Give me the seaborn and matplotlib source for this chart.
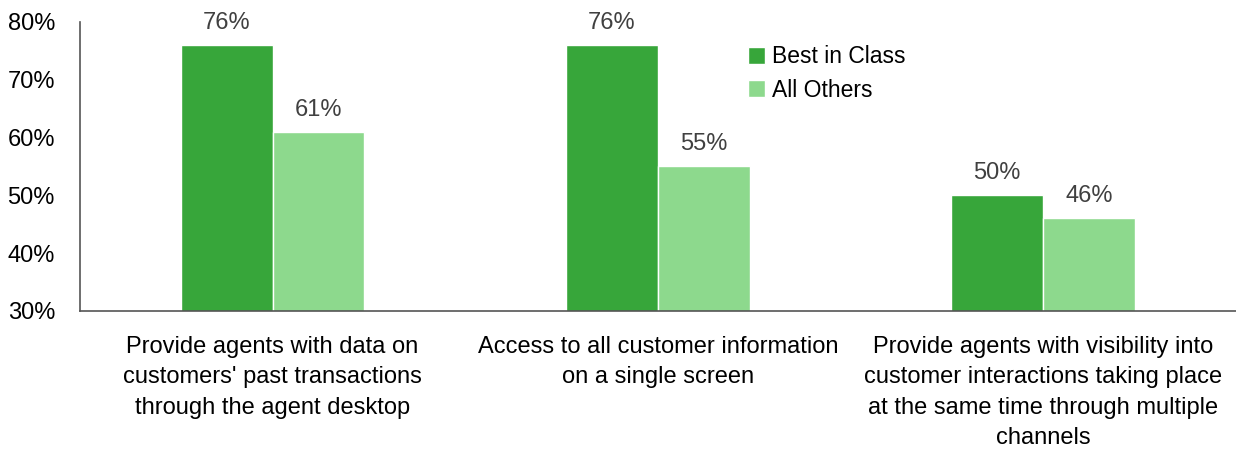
import matplotlib
matplotlib.use('Agg')
import matplotlib.pyplot as plt
import seaborn as sns
import pandas as pd

categories = [
    "Provide agents with data on\ncustomers' past transactions\nthrough the agent desktop",
    "Access to all customer information\non a single screen",
    "Provide agents with visibility into\ncustomer interactions taking place\nat the same time through multiple\nchannels",
]
best_in_class = [76, 76, 50]
all_others = [61, 55, 46]
series = ['Best in Class', 'All Others']
colors = ['#37a63a', '#8dd98d']

df = pd.DataFrame({
    'category': categories * 2,
    'group': [series[0]] * 3 + [series[1]] * 3,
    'value': best_in_class + all_others,
})

sns.set_style('white')
plt.rcParams['font.family'] = ['Liberation Sans', 'DejaVu Sans']
plt.rcParams['text.color'] = 'black'
plt.rcParams['xtick.color'] = 'black'
plt.rcParams['ytick.color'] = 'black'

fig = plt.figure(figsize=(12.36, 4.54), dpi=100)
ax = fig.add_axes([0.0647, 0.315, 0.935, 0.637])

sns.barplot(data=df, x='category', y='value', hue='group', palette=colors,
            width=0.477, saturation=1, ax=ax, legend=True)

for cont in ax.containers:
    ax.bar_label(cont, labels=[f'{v:.0f}%' for v in cont.datavalues],
                 padding=8, fontsize=17, color='#404040')

ax.set_ylim(30, 80)
ax.set_xlim(-0.5, 2.5)
ax.set_yticks(range(30, 81, 10))
ax.set_yticklabels([f'{t}%' for t in range(30, 81, 10)], fontsize=17, color='black')
ax.tick_params(axis='y', length=0, pad=18)
ax.tick_params(axis='x', length=0, pad=18)
ax.set_xticklabels(categories, fontsize=17, linespacing=1.5, va='top', color='black')
ax.set_xlabel('')
ax.set_ylabel('')

for s in ['top', 'right']:
    ax.spines[s].set_visible(False)
for s in ['left', 'bottom']:
    ax.spines[s].set_color('#555555')
    ax.spines[s].set_linewidth(1.2)

leg = ax.legend(loc='upper left', bbox_to_anchor=(0.56, 0.99), frameon=False,
                fontsize=16.5, handlelength=0.75, handleheight=0.75,
                handletextpad=0.3, labelspacing=0.45)
for t in leg.get_texts():
    t.set_color('black')

fig.savefig('out.png', dpi=100)
